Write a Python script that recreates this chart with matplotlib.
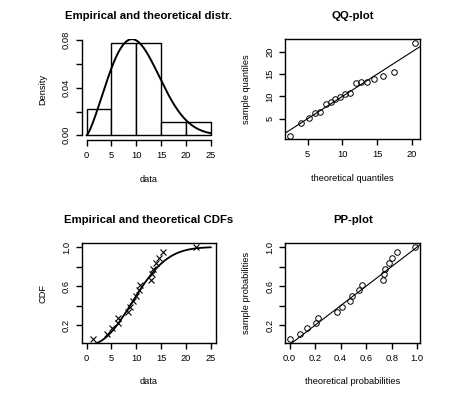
import numpy as np
import matplotlib
matplotlib.use("Agg")
import matplotlib.pyplot as plt

plt.rcParams['font.family'] = ['Liberation Sans', 'DejaVu Sans']

# ---- data ----
sample = [1.2, 4.1, 5.2, 6.3, 6.4, 8.3, 8.8, 9.4, 9.9, 10.6, 10.8,
          13.0, 13.2, 13.3, 14.0, 14.5, 15.4, 22.0]
hist_breaks = [0, 5, 10, 15, 20, 25]
theo_quantiles = [2.5, 4.0, 5.15, 6.0, 6.8, 7.6, 8.3, 9.0, 9.7, 10.4, 11.1,
                  11.9, 12.65, 13.55, 14.6, 15.8, 17.5, 20.5]
emp_probs = [0.056, 0.111, 0.167, 0.222, 0.278, 0.333, 0.389, 0.444, 0.5,
             0.556, 0.611, 0.667, 0.722, 0.778, 0.833, 0.889, 0.944, 1.0]
theo_probs = [0.006, 0.08, 0.14, 0.21, 0.22, 0.37, 0.41, 0.47, 0.49, 0.545,
              0.57, 0.73, 0.74, 0.745, 0.78, 0.80, 0.84, 0.985]
# fitted Weibull distribution (theoretical curves)
weib_shape = 2.3
weib_scale = 11.7

hist_yticks = [0.0, 0.02, 0.04, 0.06, 0.08]
hist_yticklabels = ["0.00", "", "0.04", "", "0.08"]
x_ticks_data = [0, 5, 10, 15, 20, 25]
qq_ticks = [5, 10, 15, 20]
prob_yticks = [0.2, 0.4, 0.6, 0.8, 1.0]
prob_yticklabels = ["0.2", "", "0.6", "", "1.0"]
pp_xticks = [0.0, 0.2, 0.4, 0.6, 0.8, 1.0]
pp_xticklabels = ["0.0", "0.2", "0.4", "0.6", "0.8", "1.0"]


def wdens(x):
    t = x / weib_scale
    return (weib_shape / weib_scale) * t ** (weib_shape - 1) * np.exp(-t ** weib_shape)


def wcdf(x):
    return 1 - np.exp(-(x / weib_scale) ** weib_shape)


def rlim(v):
    lo, hi = min(v), max(v)
    r = hi - lo
    return lo - 0.04 * r, hi + 0.04 * r


W, H = 454, 396
fig = plt.figure(figsize=(W / 100, H / 100), dpi=100)

FS = 6.7
TFS = 8.2
LW = 1.0


def px_axes(left, top, right, bottom):
    return fig.add_axes([left / W, 1 - bottom / H, (right - left) / W, (bottom - top) / H])


def style(ax, title, xlabel, ylabel, hpx):
    ax.tick_params(axis='both', direction='out', length=4.3, width=LW,
                   labelsize=FS, pad=3.5, colors='black')
    for lab in ax.get_yticklabels():
        lab.set_rotation(90)
        lab.set_va('center')
        lab.set_ha('right')
    ax.text(0.5, 1 + 23.5 / hpx, title, transform=ax.transAxes, ha='center',
            va='center', fontsize=TFS, fontweight='bold')
    ax.text(0.5, -39.0 / hpx, xlabel, transform=ax.transAxes, ha='center',
            va='center', fontsize=FS)
    ax.text(-38.8 / 134.0, 0.5, ylabel, transform=ax.transAxes, ha='center',
            va='center', rotation=90, fontsize=FS)
    for s in ax.spines.values():
        s.set_linewidth(LW)


# ---- top-left: histogram + density ----
ax1 = px_axes(81.7, 39.3, 215.7, 140.0)
ax1.hist(sample, bins=hist_breaks, density=True, facecolor='white',
         edgecolor='black', linewidth=LW)
xs = np.linspace(0.001, 25, 400)
ax1.plot(xs, wdens(xs), color='black', lw=1.4)
ax1.set_xlim(-1, 26)
ax1.set_ylim(-0.004, 0.0808)
ax1.set_xticks(x_ticks_data)
ax1.set_yticks(hist_yticks)
ax1.set_yticklabels(hist_yticklabels)
ax1.spines['top'].set_visible(False)
ax1.spines['right'].set_visible(False)
ax1.spines['left'].set_bounds(0, 0.08)
ax1.spines['bottom'].set_bounds(0, 25)
style(ax1, "Empirical and theoretical distr.", "data", "Density", 100.7)

# ---- top-right: QQ plot ----
ax2 = px_axes(285.3, 39.3, 420.3, 139.3)
ax2.plot(theo_quantiles, sample, linestyle='none', marker='o', markersize=4.0,
         markerfacecolor='none', markeredgecolor='black', markeredgewidth=0.7)
ax2.set_xlim(*rlim(theo_quantiles))
ax2.set_ylim(*rlim(sample))
ax2.axline((0, 0), slope=1, color='black', lw=0.8)
ax2.set_xticks(qq_ticks)
ax2.set_yticks(qq_ticks)
style(ax2, "QQ-plot", "theoretical quantiles", "sample quantiles", 100.0)

# ---- bottom-left: CDFs ----
ax3 = px_axes(81.7, 243.3, 215.7, 343.0)
ax3.plot(sample, emp_probs, linestyle='none', marker='x', markersize=4,
         markeredgecolor='black', markeredgewidth=0.8)
xc = np.linspace(0, 25, 400)
ax3.plot(xc, wcdf(xc), color='black', lw=1.3)
ax3.set_xlim(-1, 26)
ax3.set_ylim(*rlim(emp_probs))
ax3.set_xticks(x_ticks_data)
ax3.set_yticks(prob_yticks)
ax3.set_yticklabels(prob_yticklabels)
style(ax3, "Empirical and theoretical CDFs", "data", "CDF", 99.7)

# ---- bottom-right: PP plot ----
ax4 = px_axes(285.3, 243.3, 420.3, 343.0)
ax4.plot(theo_probs, emp_probs, linestyle='none', marker='o', markersize=4.0,
         markerfacecolor='none', markeredgecolor='black', markeredgewidth=0.7)
ax4.set_xlim(*rlim(theo_probs))
ax4.set_ylim(*rlim(emp_probs))
ax4.axline((0, 0), slope=1, color='black', lw=0.8)
ax4.set_xticks(pp_xticks)
ax4.set_xticklabels(pp_xticklabels)
ax4.set_yticks(prob_yticks)
ax4.set_yticklabels(prob_yticklabels)
style(ax4, "PP-plot", "theoretical probabilities", "sample probabilities", 99.7)

fig.savefig("out.png", dpi=100, facecolor='white')
